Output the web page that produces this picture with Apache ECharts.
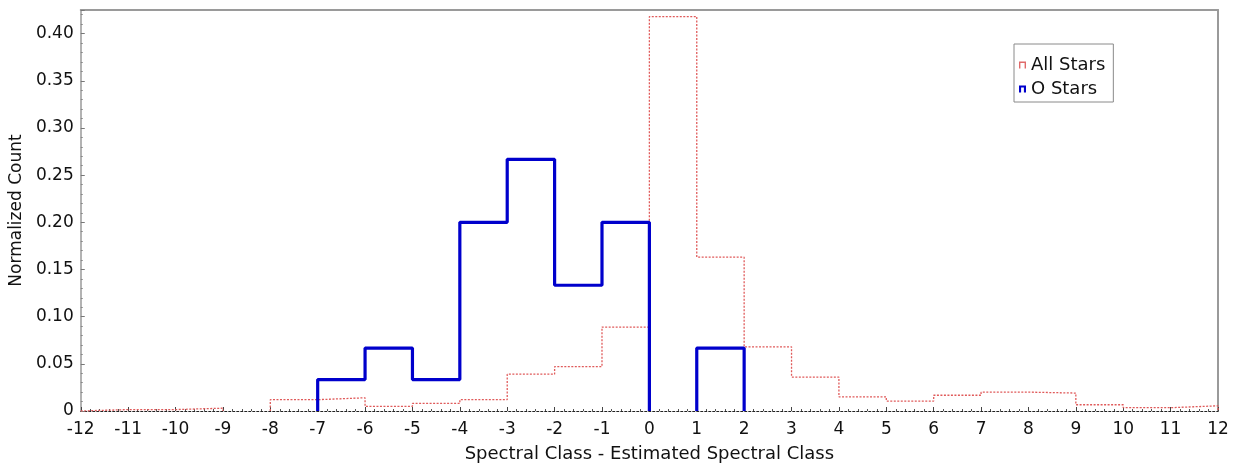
<!DOCTYPE html>
<html>
<head>
<meta charset="utf-8">
<script src="https://cdn.jsdelivr.net/npm/echarts@6/dist/echarts.min.js"></script>
<style>
html,body{margin:0;padding:0;background:#fff;}
#chart{width:1236px;height:468px;}
</style>
</head>
<body>
<div id="chart"></div>
<script>
// Bin edges (spectral class difference) and normalized counts per bin
var binEdges = [-12,-11,-10,-9,-8,-7,-6,-5,-4,-3,-2,-1,0,1,2,3,4,5,6,7,8,9,10,11,12];
var allStars = [0.0015,0.0015,0.003,0,0.012,0.014,0.005,0.008,0.012,0.039,0.047,0.089,
                0.418,0.163,0.068,0.036,0.015,0.0105,0.0167,0.020,0.019,0.0066,0.0035,0.0055];
var oStars   = [0,0,0,0,0,0.0333,0.0667,0.0333,0.2,0.2667,0.1333,0.2,
                0,0.0667,0,0,0,0,0,0,0,0,0,0];
var yTicks = [0,0.05,0.10,0.15,0.20,0.25,0.30,0.35,0.40];

// Build histogram outline points (broken at empty bins)
function outline(vals){
  var pts = [];
  for (var i = 0; i < vals.length; i++) {
    var v = vals[i];
    if (v <= 0) continue;
    var prev = i > 0 ? vals[i-1] : 0;
    var next = i < vals.length - 1 ? vals[i+1] : 0;
    if (prev <= 0) pts.push([binEdges[i], 0]);
    pts.push([binEdges[i], v]);
    pts.push([binEdges[i+1], v]);
    if (next <= 0) { pts.push([binEdges[i+1], 0]); pts.push(null); }
  }
  return pts.map(function(p){ return p === null ? ['-', '-'] : p; });
}

var chart = echarts.init(document.getElementById('chart'), null, {renderer:'canvas'});
var font = '"DejaVu Sans", "Liberation Sans", Arial, sans-serif';

var option = {
  animation: false,
  backgroundColor: '#fff',
  textStyle: {fontFamily: font},
  grid: {left: 80, right: 18, top: 10, bottom: 52, containLabel: false},
  legend: {
    orient: 'vertical',
    left: 1014, top: 44,
    padding: [12, 8, 4, 5],
    itemGap: 6,
    itemWidth: 7, itemHeight: 10,
    borderColor: '#8a8a8a', borderWidth: 1,
    textStyle: {fontFamily: font, fontSize: 18, color: '#111'},
    data: [
      {name: 'All Stars', icon: 'path://M0,10 L0,0 L10,0 L10,10 L8,10 L8,2 L2,2 L2,10 Z', itemStyle: {color: '#e06a6a'}},
      {name: 'O Stars', icon: 'path://M0,10 L0,0 L10,0 L10,10 L7,10 L7,3 L3,3 L3,10 Z', itemStyle: {color: '#0000cc'}}
    ]
  },
  xAxis: [{
    type: 'value', min: -12, max: 12, interval: 1,
    axisLine: {show: true, onZero: false, lineStyle: {color: '#222', width: 1.2, type: [2,2]}},
    axisTick: {show: true, inside: true, length: 4, lineStyle: {color: '#444'}},
    minorTick: {show: true, splitNumber: 5, length: 2, lineStyle: {color: '#555'}},
    splitLine: {show: false},
    axisLabel: {fontSize: 17, color: '#111', margin: 10, fontFamily: font},
    name: 'Spectral Class - Estimated Spectral Class',
    nameLocation: 'middle', nameGap: 34,
    nameTextStyle: {fontSize: 18, color: '#111', fontFamily: font}
  },{
    type: 'value', min: -12, max: 12, interval: 1, position: 'top',
    axisLine: {show: true, onZero: false, lineStyle: {color: '#9a9a9a', width: 2}},
    axisTick: {show: false}, axisLabel: {show: false}, splitLine: {show: false}
  }],
  yAxis: [{
    type: 'value', min: 0, max: 0.425, interval: 0.05,
    axisLine: {show: true, onZero: false, lineStyle: {color: '#9a9a9a', width: 1.5}},
    axisTick: {show: true, inside: true, length: 4, lineStyle: {color: '#777'}},
    minorTick: {show: true, splitNumber: 5, length: 2, lineStyle: {color: '#888'}},
    splitLine: {show: false},
    axisLabel: {
      fontSize: 17, color: '#111', margin: 7, fontFamily: font, showMaxLabel: false,
      formatter: function(v){
        for (var i = 0; i < yTicks.length; i++) {
          if (Math.abs(v - yTicks[i]) < 1e-6) return v === 0 ? '0' : yTicks[i].toFixed(2);
        }
        return '';
      }
    },
    name: 'Normalized Count',
    nameLocation: 'middle', nameGap: 53, nameRotate: 90,
    nameTextStyle: {fontSize: 17, color: '#111', fontFamily: font}
  },{
    type: 'value', min: 0, max: 0.425, interval: 0.05, position: 'right',
    axisLine: {show: true, onZero: false, lineStyle: {color: '#9a9a9a', width: 2}},
    axisTick: {show: false}, axisLabel: {show: false}, splitLine: {show: false}
  }],
  series: [{
    name: 'All Stars', type: 'line',
    data: outline(allStars),
    showSymbol: false, symbol: 'none', connectNulls: false,
    lineStyle: {color: '#e05a5a', width: 1.3, type: [2,1.5]},
    itemStyle: {color: '#e06a6a'},
    z: 3
  },{
    name: 'O Stars', type: 'line',
    data: outline(oStars),
    showSymbol: false, symbol: 'none', connectNulls: false,
    lineStyle: {color: '#0000cc', width: 3.2},
    itemStyle: {color: '#0000cc'},
    z: 4
  }]
};
chart.setOption(option);
</script>
</body>
</html>
